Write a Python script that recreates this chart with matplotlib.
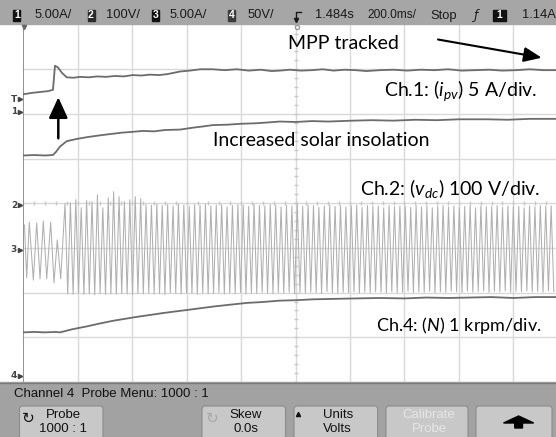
import numpy as np
import matplotlib.pyplot as plt
from matplotlib.patches import Rectangle, FancyBboxPatch, Polygon

plt.rcParams['mathtext.fontset'] = 'custom'
plt.rcParams['mathtext.rm'] = 'Lato'
plt.rcParams['mathtext.it'] = 'Lato:italic'

# traces in screen divisions (time div, volt div)
# upper trace (MPP tracked)
up_t = [0.00, 0.15, 0.30, 0.45, 0.545, 0.582, 0.637, 0.71, 0.797, 0.92,
        1.04, 1.20, 1.36, 1.52, 1.68, 1.84, 2.01, 2.17, 2.33, 2.49,
        2.64, 2.76, 2.88, 3.06, 3.25, 3.48, 3.70, 3.92, 4.14, 4.36,
        4.56, 4.71, 4.90, 5.10, 5.30, 5.50, 5.70, 5.90, 6.10, 6.30,
        6.55, 6.80, 7.05, 7.30, 7.55, 7.80, 8.05, 8.30, 8.55, 8.80,
        9.05, 9.30, 9.55, 9.78]
up_v = [2.44, 2.47, 2.49, 2.51, 2.54, 3.08, 3.04, 2.92, 2.82, 2.81,
        2.83, 2.82, 2.84, 2.83, 2.85, 2.84, 2.87, 2.86, 2.88, 2.87,
        2.89, 2.92, 2.95, 2.97, 3.00, 3.00, 2.98, 3.00, 2.97, 2.99,
        2.96, 2.97, 2.99, 2.97, 2.98, 3.00, 2.97, 2.99, 2.98, 2.96,
        2.98, 2.99, 2.97, 2.99, 2.98, 3.00, 2.97, 2.98, 2.99, 2.97,
        2.98, 3.00, 2.98, 2.98]

# ch1 i_pv (increased insolation)
lo_t = [0.00, 0.20, 0.40, 0.545, 0.60, 0.674, 0.797, 0.98, 1.17, 1.40,
        1.60, 1.80, 2.01, 2.20, 2.40, 2.60, 2.88, 3.10, 3.30, 3.48,
        3.75, 4.00, 4.25, 4.50, 4.71, 5.00, 5.30, 5.60, 6.06, 6.40,
        6.80, 7.20, 7.60, 8.00, 8.52, 8.90, 9.30, 9.78]
lo_v = [1.07, 1.08, 1.07, 1.08, 1.15, 1.27, 1.39, 1.44, 1.48, 1.52,
        1.55, 1.58, 1.60, 1.62, 1.61, 1.64, 1.65, 1.69, 1.72, 1.75,
        1.76, 1.78, 1.79, 1.81, 1.83, 1.82, 1.84, 1.83, 1.85, 1.86,
        1.85, 1.87, 1.86, 1.88, 1.88, 1.87, 1.89, 1.89]

# ch4 speed N
n_t = [0.00, 0.20, 0.40, 0.60, 0.674, 0.90, 1.15, 1.41, 1.65, 1.90,
       2.10, 2.33, 2.55, 2.80, 3.00, 3.25, 3.50, 3.80, 4.11, 4.40,
       4.70, 5.00, 5.32, 5.70, 6.10, 6.55, 7.00, 7.40, 7.80, 8.20,
       8.60, 9.00, 9.40, 9.78]
n_v = [-2.89, -2.88, -2.89, -2.88, -2.89, -2.82, -2.76, -2.69, -2.63, -2.58,
       -2.54, -2.50, -2.46, -2.42, -2.39, -2.35, -2.31, -2.27, -2.23, -2.21,
       -2.18, -2.17, -2.15, -2.14, -2.13, -2.12, -2.13, -2.11, -2.12, -2.11,
       -2.10, -2.12, -2.10, -2.10]

# ch2 v_dc before the step (peaks read one by one)
ch2_pre_t = [0.022, 0.062, 0.110, 0.184, 0.246, 0.307, 0.367, 0.430,
             0.503, 0.564, 0.624, 0.687]
ch2_pre_v = [-0.49, -1.67, -0.42, -1.72, -0.44, -1.69, -0.40, -1.69,
             -0.42, -1.78, -0.82, -1.69]

# ch2 after the step: one top and one bottom per cycle
ch2_start = 0.766
ch2_period = 0.0992
ch2_top = [-0.01, 0.01, 0.08, -0.10, 0.06, 0.04, 0.19, -0.10, 0.12, 0.26,
           0.15, 0.04, 0.08, 0.15, 0.10, -0.03, -0.04, -0.02, -0.05, -0.03,
           -0.06, -0.02, -0.04, -0.07, -0.03, -0.05, -0.02, -0.06, -0.04, -0.03,
           -0.08, -0.05, -0.03, -0.04, -0.07, -0.02, -0.05, -0.06, -0.03, -0.04,
           -0.08, -0.05, -0.06, -0.03, -0.07, -0.04, -0.05, -0.09, -0.06, -0.04,
           -0.07, -0.05, -0.08, -0.06, -0.04, -0.09, -0.05, -0.07, -0.06, -0.10,
           -0.05, -0.08, -0.06, -0.07, -0.09, -0.05, -0.08, -0.06, -0.10, -0.07,
           -0.05, -0.08, -0.06, -0.09, -0.07, -0.05, -0.10, -0.06, -0.08, -0.07,
           -0.05, -0.09, -0.06, -0.08, -0.07, -0.10, -0.06, -0.08, -0.05, -0.07,
           -0.06]
ch2_bot = [-2.03, -2.04, -2.02, -2.04, -2.03, -2.05, -2.02, -2.04, -2.03, -2.04,
           -2.02, -2.03, -2.04, -2.02, -2.03, -2.01, -2.03, -2.02, -2.04, -2.01,
           -2.02, -2.03, -2.01, -2.02, -2.04, -2.01, -2.03, -2.02, -2.00, -2.03,
           -2.01, -2.02, -2.00, -2.03, -2.01, -2.02, -1.99, -2.01, -2.02, -2.00,
           -2.01, -1.99, -2.02, -2.00, -2.01, -1.99, -2.00, -2.02, -1.98, -2.00,
           -2.01, -1.99, -2.00, -1.98, -2.01, -1.99, -2.00, -1.98, -1.99, -2.01,
           -1.98, -2.00, -1.99, -1.97, -2.00, -1.98, -1.99, -1.97, -2.00, -1.98,
           -1.99, -1.97, -1.98, -2.00, -1.97, -1.99, -1.98, -1.96, -1.99, -1.97,
           -1.98, -1.96, -1.99, -1.97, -1.98, -1.96, -1.98, -1.97, -1.99, -1.96,
           -1.98]

W, H = 556, 437
x0, y0 = 23.3, 24.6      # screen corner, px
dx, dy = 54.45, 44.67    # px per division
screen_w = (W - x0) / dx

fig = plt.figure(figsize=(W / 100, H / 100), dpi=100)
fig.patch.set_facecolor('white')

ax = fig.add_axes([x0 / W, 1 - (y0 + 8 * dy) / H, (W - x0) / W, 8 * dy / H])
ax.set_xlim(0, screen_w)
ax.set_ylim(-4, 4)
ax.axis('off')
for i in range(1, 10):
    ax.axvline(i, color='#d9d9d9', lw=1.0, zorder=0)
for j in range(-3, 4):
    ax.axhline(j, color='#d9d9d9', lw=1.0, zorder=0)
ax.axvline(0, color='#808080', lw=1.2, zorder=1)
# small ticks on centre lines
ax.plot(np.full(41, 5), np.linspace(-4, 4, 41), ls='none', marker='_', ms=3,
        color='#c8c8c8', zorder=0)
ax.plot(np.linspace(0, 9.6, 49), np.zeros(49), ls='none', marker='|', ms=3,
        color='#c8c8c8', zorder=0)

top_t = ch2_start + ch2_period * np.arange(len(ch2_top))
bot_t = top_t + ch2_period / 2
t2 = np.concatenate([ch2_pre_t, np.column_stack([top_t, bot_t]).ravel()])
v2 = np.concatenate([ch2_pre_v, np.column_stack([ch2_top, ch2_bot]).ravel()])
ax.plot(t2, v2, color='#b0b0b0', lw=0.75, zorder=2)

ax.plot(up_t, up_v, color='#6c6c6c', lw=1.3, zorder=3)
ax.plot(lo_t, lo_v, color='#6c6c6c', lw=1.3, zorder=3)
ax.plot(n_t, n_v, color='#6c6c6c', lw=1.3, zorder=3)

# overlay in pixel coordinates
ov = fig.add_axes([0, 0, 1, 1])
ov.set_xlim(0, W)
ov.set_ylim(H, 0)
ov.axis('off')
ov.patch.set_alpha(0)

narrow = ['Liberation Sans Narrow', 'Liberation Sans']

# top status bar
ov.add_patch(Rectangle((0, 0), W, 24.3, color='#a6a6a6'))
boxes = [(13.3, '1', '#111111'), (87.5, '2', '#2a2a2a'), (151.7, '3', '#111111'),
         (228, '4', '#3a3a3a')]
for bx, lab, c in boxes:
    ov.add_patch(Rectangle((bx, 9.5), 7, 11.5, color=c))
    ov.text(bx + 3.5, 15.5, lab, color='white', fontsize=7.5, fontweight='bold',
            ha='center', va='center', family=narrow)
ov.add_patch(Rectangle((493, 9.5), 13, 11.5, color='#111111'))
ov.text(499.5, 15.5, '1', color='white', fontsize=7.5, fontweight='bold',
        ha='center', va='center', family=narrow)
bar_labels = [(35, '5.00A/'), (106, '100V/'), (170, '5.00A/'), (248, '50V/'),
              (315, '1.484s'), (430, 'Stop'), (522, '1.14A')]
for bx, lab in bar_labels:
    ov.text(bx, 15.5, lab, color='#1a1a1a', fontsize=9.3, ha='left', va='center',
            family=narrow)
ov.text(367, 15.5, '200.0ms/', color='#1a1a1a', fontsize=8.6, ha='left',
        va='center', family=narrow)
ov.plot([301, 296, 296], [12, 12, 19], color='#1a1a1a', lw=1)
ov.plot([296], [20], marker='v', ms=3, color='#1a1a1a')
ov.text(476, 15.5, 'ƒ', color='#1a1a1a', fontsize=9, ha='center', va='center',
        style='italic')
ov.plot([23.5], [27], marker='v', ms=3, color='#666666')
ov.plot([297], [26.5], marker='o', ms=3, mfc='white', mec='#999999')

# channel markers on the left
for lab, yy in [('T', 99), ('1', 112), ('2', 205), ('3', 250), ('4', 376)]:
    ov.text(17, yy, lab, fontsize=6.5, fontweight='bold', color='#444444',
            ha='right', va='center')
    ov.plot([20], [yy], marker='>', ms=3, color='#444444')

# annotations
ann = dict(family='Lato', fontsize=14, color='black')
ov.text(288, 49.3, 'MPP tracked', ha='left', va='baseline', **ann)
ov.text(537, 96, 'Ch.1: ($i_{pv}$) 5 A/div.', ha='right', va='baseline', **ann)
ov.text(213, 146, 'Increased solar insolation', ha='left', va='baseline', **ann)
ov.text(540, 195, 'Ch.2: ($v_{dc}$) 100 V/div.', ha='right', va='baseline', **ann)
ov.text(542, 331, 'Ch.4: ($N$) 1 krpm/div.', ha='right', va='baseline',
        family='Lato', fontsize=13, color='black')
ov.annotate('', xy=(541.7, 57.7), xytext=(438, 39.5),
            arrowprops=dict(arrowstyle='-|>,head_length=0.6,head_width=0.25',
                            lw=1.5, color='black', mutation_scale=18,
                            shrinkA=0, shrinkB=0))
ov.annotate('', xy=(58.3, 97.3), xytext=(58.3, 138.3),
            arrowprops=dict(arrowstyle='-|>,head_length=0.7,head_width=0.32',
                            lw=1.8, color='black', mutation_scale=18,
                            shrinkA=0, shrinkB=0))

# bottom softkey menu
ov.add_patch(Rectangle((0, 382.3), W, H - 382.3, color='#a2a2a2'))
ov.plot([0, W], [382.5, 382.5], color='#7a7a7a', lw=1)
ov.text(14, 394, 'Channel 4  Probe Menu: 1000 : 1', fontsize=9.5, color='#111111',
        ha='left', va='center', family=narrow)
buttons = [(19.5, 103, 'Probe', '1000 : 1', '#111111'),
           (202, 285.5, 'Skew', '0.0s', '#111111'),
           (294, 377.6, 'Units', 'Volts', '#111111'),
           (386, 468, 'Calibrate', 'Probe', '#e6e6e6'),
           (476, 552, '', '', '#111111')]
for bl, br, l1, l2, tc in buttons:
    ov.add_patch(FancyBboxPatch((bl, 406), br - bl, 36,
                                boxstyle='round,pad=0,rounding_size=3',
                                fc='#c8c8c8', ec='#8c8c8c', lw=0.8))
    cx = (bl + br) / 2 + 2
    ov.text(cx, 415.5, l1, fontsize=9.5, color=tc, ha='center', va='center',
            family=narrow)
    ov.text(cx, 428.5, l2, fontsize=9.5, color=tc, ha='center', va='center',
            family=narrow)
ov.text(28, 418, '↻', fontsize=11, color='#111111', ha='center', va='center')
ov.text(212, 418, '↻', fontsize=11, color='#a8a8a8', ha='center', va='center')
ov.plot([298], [414], marker='^', ms=3, color='#111111')
ov.add_patch(Polygon([[503.5, 423], [518.6, 416], [533.7, 423], [522.5, 423],
                      [522.5, 428], [514.7, 428], [514.7, 423]],
                     closed=True, color='black'))

fig.savefig('out.png', dpi=100)
